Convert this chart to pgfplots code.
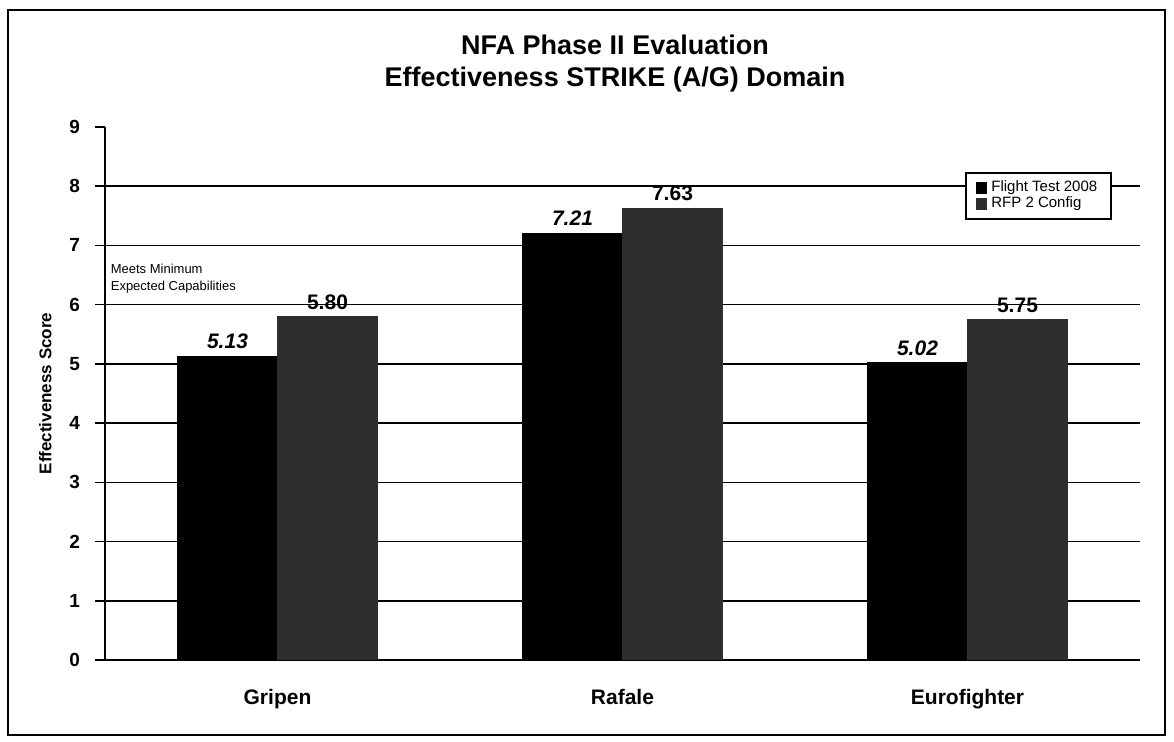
\documentclass[border=0pt]{standalone}
\usepackage{pgfplots}
\pgfplotsset{compat=1.18}
\usepackage{fontspec}
\setmainfont{Liberation Sans}
\begin{document}
\begin{tikzpicture}
\useasboundingbox (0,0) rectangle (587pt,371pt);
\draw[line width=0.8pt] (4pt,3.5pt) rectangle (582.5pt,366pt);
\begin{axis}[
  at={(52.5pt,41pt)}, anchor=south west,
  scale only axis, width=517.5pt, height=266.5pt,
  ybar=0pt, bar width=50pt,
  xmin=-0.5, xmax=2.5, ymin=0, ymax=9,
  xtick={0,1,2}, xticklabels={Gripen,Rafale,Eurofighter},
  xtick style={draw=none},
  xticklabel style={font=\fontsize{10.5}{12}\selectfont\bfseries, yshift=-6pt},
  ytick={0,...,9},
  yticklabel style={font=\fontsize{9.5}{11}\selectfont\bfseries, xshift=-4pt},
  tick align=outside, major tick length=5pt,
  ytick style={black, line width=0.8pt},
  extra y ticks={1,...,8}, extra y tick labels={},
  extra y tick style={grid=major, major tick length=0pt},
  major grid style={black, line width=0.8pt},
  axis lines*=left,
  axis line style={line width=0.8pt},
  /pgf/number format/assume math mode=true,
  ylabel={Effectiveness Score},
  ylabel style={font=\fontsize{8.5}{10}\selectfont\bfseries, yshift=-3pt},
  legend style={at={(0.973,0.915)}, anchor=north east, draw=black, line width=0.8pt, fill=white,
    font=\fontsize{7.5}{8}\selectfont, row sep=-3pt, inner xsep=5pt, inner ysep=2pt},
  legend cell align=left,
  legend image code/.code={\fill[#1] (0pt,-2.5pt) rectangle (5pt,2.5pt);},
  nodes near coords={\pgfmathprintnumber[fixed,fixed zerofill,precision=2,assume math mode=true]{\pgfplotspointmeta}},
  nodes near coords align={vertical},
]
\addplot[fill=black, draw=black, every node near coord/.append style={font=\fontsize{10.5}{12}\selectfont\bfseries\itshape, yshift=0pt}]
  coordinates {(0,5.13) (1,7.21) (2,5.02)};
\addplot[fill=black!82, draw=black!82, every node near coord/.append style={font=\fontsize{10.5}{12}\selectfont\bfseries, yshift=0pt}]
  coordinates {(0,5.80) (1,7.63) (2,5.75)};
\legend{Flight Test 2008, RFP 2 Config}
\node[anchor=south west, font=\fontsize{6.5}{8.5}\selectfont, align=left, inner sep=1pt] at (axis cs:-0.49,6.15) {Meets Minimum\\Expected Capabilities};
\end{axis}
\node[font=\fontsize{13.5}{16}\selectfont\bfseries, align=center] at (307.5pt,339pt) {NFA Phase II Evaluation\\Effectiveness STRIKE (A/G) Domain};
\end{tikzpicture}
\end{document}
